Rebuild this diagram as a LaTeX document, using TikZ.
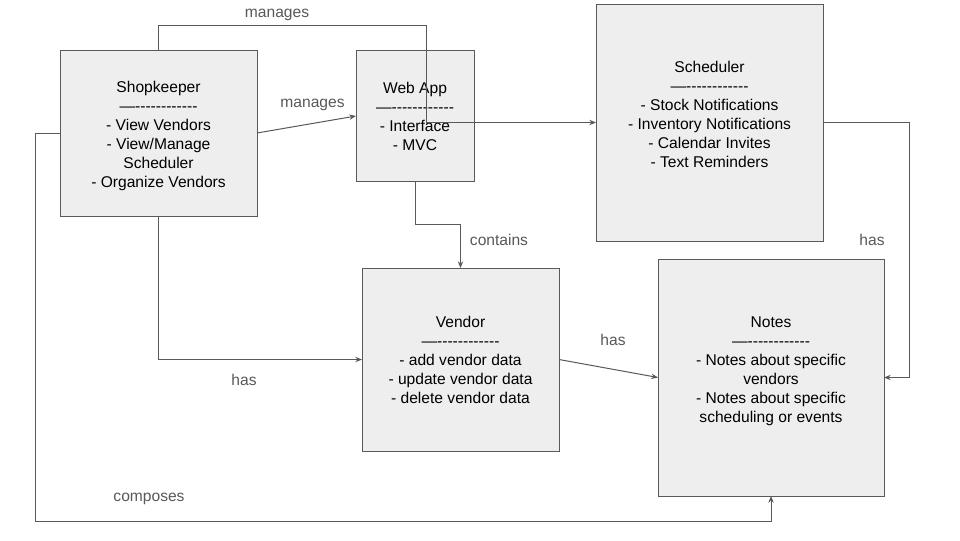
\documentclass[tikz,border=0pt]{standalone}
\usepackage{fontspec}
\setmainfont{Liberation Sans}
\usetikzlibrary{arrows.meta}
\definecolor{boxfill}{HTML}{EEEEEE}
\definecolor{edge}{HTML}{595959}
\newcommand\dashrow{—-{}-{}-{}-{}-{}-{}-{}-{}-{}-{}-{}-{}}
\tikzset{
  box/.style={draw=edge, fill=boxfill, line width=0.75pt, inner sep=0pt, outer sep=0pt,
    align=center, font=\fontsize{11.7}{14.25}\selectfont, text=black},
  conn/.style={draw=edge, line width=0.75pt, -{Stealth[length=5pt,width=4pt]}},
  lbl/.style={text=edge, font=\fontsize{11.7}{14.25}\selectfont, inner sep=0pt, text height=8.5pt, text depth=2.5pt}
}
\begin{document}
\begin{tikzpicture}[x=0.75pt,y=-0.75pt]
\useasboundingbox[fill=white] (0,0) rectangle (960,540);
\node[box, minimum width=197*0.75pt, minimum height=166*0.75pt] (shop) at (158.5,133)
  {\rule{0pt}{13pt}Shopkeeper\\\dashrow\\- View Vendors\\- View/Manage\\Scheduler\\- Organize Vendors};
\node[box, minimum width=118*0.75pt, minimum height=131*0.75pt] (web) at (415,116)
  {Web App\\\dashrow\\- Interface\\- MVC};
\node[box, minimum width=227*0.75pt, minimum height=237*0.75pt] (sched) at (709.5,122.5)
  {Scheduler\\\dashrow\\- Stock Notifications\\- Inventory Notifications\\- Calendar Invites\\- Text Reminders\\[-6pt]\strut};
\node[box, minimum width=197*0.75pt, minimum height=183*0.75pt] (vendor) at (460.5,359.5)
  {Vendor\\\dashrow\\- add vendor data\\- update vendor data\\- delete vendor data};
\node[box, minimum width=226*0.75pt, minimum height=237*0.75pt] (notes) at (771,377.5)
  {Notes\\\dashrow\\- Notes about specific\\vendors\\- Notes about specific\\scheduling or events\\[-6pt]\strut};

\coordinate (c1) at (426,25);
\coordinate (c3) at (35,521);
\coordinate (c4) at (909,250);

\draw[conn] (shop.north) |- (c1) |- (sched.west);
\draw[conn] (shop.east) -- (web.west);
\draw[conn] (web.south) -- ++(0,43) -| (vendor.north);
\draw[conn] (shop.south) |- (vendor.west);
\draw[conn] (shop.west) -| (c3) -| (notes.south);
\draw[conn] (vendor.east) -- (notes.west);
\draw[conn] (sched.east) -| (c4) |- (notes.east);

\node[lbl] (l1) at (277,13) {manages};
\node[lbl] (l2) at (312.5,103) {manages};
\node[lbl] (l3) at (499,241) {contains};
\node[lbl] (l4) at (244,381) {has};
\node[lbl] (l5) at (149,497) {composes};
\node[lbl] (l6) at (613,341) {has};
\node[lbl] (l7) at (872,241) {has};
\end{tikzpicture}
\end{document}
